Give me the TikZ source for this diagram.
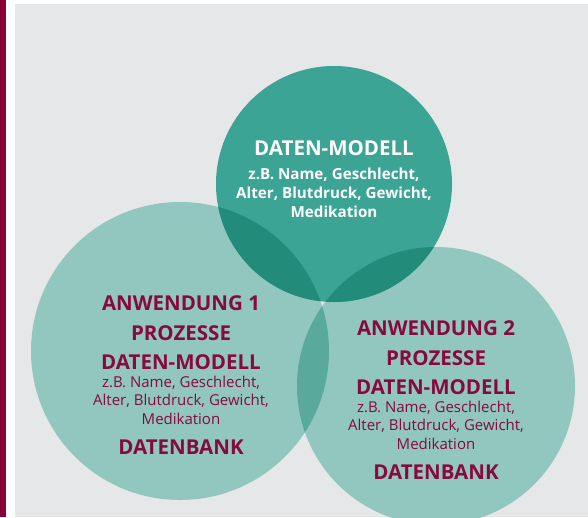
\documentclass[tikz,border=0pt]{standalone}
\usepackage{fontspec}
\setmainfont{Open Sans}
\definecolor{bgray}{HTML}{E6E7E8}
\definecolor{barred}{HTML}{870038}
\definecolor{lightteal}{HTML}{91C7BF}
\definecolor{midteal}{HTML}{3BA495}
\definecolor{darkteal}{HTML}{228B7A}
\definecolor{overlapteal}{HTML}{5AA99D}
\definecolor{wine}{HTML}{870A3C}
\tikzset{
  head/.style={font=\fontsize{20.5}{24}\selectfont\bfseries, text=wine, inner sep=0pt},
  detail/.style={font=\fontsize{15}{17}\selectfont, text=wine, inner sep=0pt},
  tophead/.style={font=\fontsize{20.5}{24}\selectfont\bfseries, text=white, inner sep=0pt},
  topdetail/.style={font=\fontsize{15.2}{17}\selectfont\bfseries, text=white, inner sep=0pt},
  disc/.style={circle, inner sep=0pt, draw=none},
}
\begin{document}
\begin{tikzpicture}[x=1pt, y=-1pt]
  \useasboundingbox (0,0) rectangle (588,517);
  % frame: white page, wine bar on the left, grey panel
  \fill[white] (0,0) rectangle (588,517);
  \fill[barred] (0,0) rectangle (6,517);
  \fill[bgray] (15,4) rectangle (588,517);

  \coordinate (cT) at (334,184);
  \coordinate (cL) at (180,351);
  \coordinate (cR) at (436,386);

  \begin{scope}
    \clip (15,4) rectangle (588,517);
    % the two application circles
    \node[disc, fill=lightteal, minimum size=298pt] (app1) at (cL) {};
    \node[disc, fill=lightteal, minimum size=278pt] (app2) at (cR) {};
    % overlap of the two applications
    \begin{scope}
      \clip (cL) circle (149);
      \fill[overlapteal] (cR) circle (139);
    \end{scope}
    % shared data model circle
    \node[disc, fill=midteal, minimum size=236pt] (model) at (cT) {};
    \begin{scope}
      \clip (cT) circle (118);
      \fill[darkteal] (cL) circle (149);
      \fill[darkteal] (cR) circle (139);
    \end{scope}
  \end{scope}

  % data model
  \node[tophead] (mH) at (334,148) {DATEN-MODELL};
  \node[topdetail] (m1) at (334,175) {z.B. Name, Geschlecht,};
  \node[topdetail] (m2) at (334,193.5) {Alter, Blutdruck, Gewicht,};
  \node[topdetail] (m3) at (334,212) {Medikation};

  % application 1
  \node[head] (a1) at (181,303) {ANWENDUNG 1};
  \node[head] (a2) at (181,333) {PROZESSE};
  \node[head] (a3) at (181,362) {DATEN-MODELL};
  \node[detail] (a4) at (181,383) {z.B. Name, Geschlecht,};
  \node[detail] (a5) at (181,401) {Alter, Blutdruck, Gewicht,};
  \node[detail] (a6) at (181,419) {Medikation};
  \node[head] (a7) at (181,447) {DATENBANK};

  % application 2
  \node[head] (b1) at (436,328) {ANWENDUNG 2};
  \node[head] (b2) at (436,358) {PROZESSE};
  \node[head] (b3) at (436,387) {DATEN-MODELL};
  \node[detail] (b4) at (436,408) {z.B. Name, Geschlecht,};
  \node[detail] (b5) at (436,426) {Alter, Blutdruck, Gewicht,};
  \node[detail] (b6) at (436,444) {Medikation};
  \node[head] (b7) at (436,472) {DATENBANK};
\end{tikzpicture}
\end{document}
